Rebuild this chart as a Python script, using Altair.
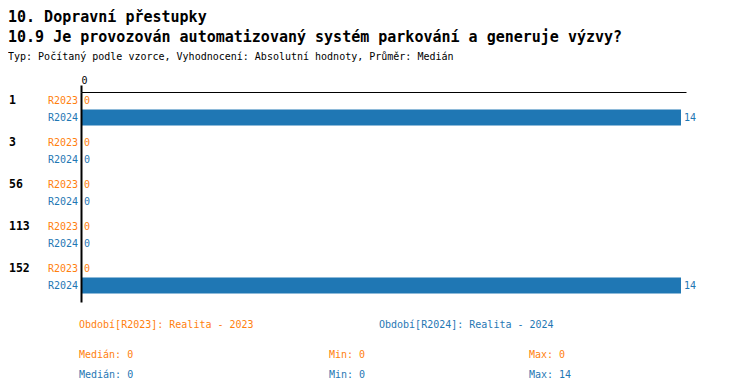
import statistics
import altair as alt
import pandas as pd

# ---- data ----
groups = ["1", "3", "56", "113", "152"]
periods = ["R2023", "R2024"]
values_r2023 = [0, 0, 0, 0, 0]
values_r2024 = [14, 0, 0, 0, 14]
period_names = ["Období[R2023]: Realita - 2023", "Období[R2024]: Realita - 2024"]
title_1 = "10. Dopravní přestupky"
title_2 = "10.9 Je provozován automatizovaný systém parkování a generuje výzvy?"
subtitle = "Typ: Počítaný podle vzorce, Vyhodnocení: Absolutní hodnoty, Průměr: Medián"

ORANGE = "#ff7f0e"
BLUE = "#1f77b4"
FONT = "DejaVu Sans Mono"

rows = []
for g, a, b in zip(groups, values_r2023, values_r2024):
    rows.append({"group": g, "period": "R2023", "value": a})
    rows.append({"group": g, "period": "R2024", "value": b})
df = pd.DataFrame(rows)

color = alt.Color("period:N", scale=alt.Scale(domain=periods, range=[ORANGE, BLUE]), legend=None)

base = alt.Chart(df).encode(
    y=alt.Y("group:N", sort=groups,
            scale=alt.Scale(paddingInner=8 / 42, paddingOuter=4 / 42, align=0),
            axis=alt.Axis(labels=False, ticks=False, title=None, domainWidth=2,
                          domainColor="black", zindex=1)),
    yOffset=alt.YOffset("period:N", sort=periods,
                        scale=alt.Scale(paddingInner=1 / 17, paddingOuter=0.5 / 17)),
)

xenc = alt.X("value:Q",
             scale=alt.Scale(domain=[0, 14.117], nice=False, zero=True),
             axis=alt.Axis(orient="top", values=[0], tickSize=7, tickWidth=2,
                           tickColor="black", domainColor="black", domainWidth=1,
                           labelFont=FONT, labelFontSize=10, labelColor="black",
                           labelPadding=0, grid=False, title=None, zindex=1))

bars = base.mark_bar().encode(x=xenc, color=color)

value_labels = base.mark_text(align="left", baseline="middle", dx=3, font=FONT, fontSize=10).encode(
    x="value:Q", text="value:Q", color=color)

period_labels = base.mark_text(align="right", baseline="middle", font=FONT, fontSize=10).encode(
    x=alt.value(-3), text="period:N", color=color)

group_labels = base.transform_filter(alt.datum.period == "R2023").mark_text(
    align="left", baseline="middle", font=FONT, fontSize=11.5, fontWeight="bold", color="black"
).encode(x=alt.value(-72), text="group:N")


def label(text, x, y, size=10, color="black", weight="normal"):
    return alt.Chart(pd.DataFrame({"t": [text]})).mark_text(
        align="left", baseline="alphabetic", font=FONT, fontSize=size,
        fontWeight=weight, color=color
    ).encode(text="t:N", x=alt.value(x), y=alt.value(y))


texts = [
    label(title_1, -73, -70, 15, "black", "bold"),
    label(title_2, -73, -50, 15, "black", "bold"),
    label(subtitle, -73, -32.5, 10),
    label(period_names[0], -2, 236, 10, ORANGE),
    label(period_names[1], 298, 236, 10, BLUE),
]

cols_x = [-2, 248, 448]
for vals, col, y in [(values_r2023, ORANGE, 266), (values_r2024, BLUE, 286)]:
    med = statistics.median(vals)
    med = int(med) if float(med).is_integer() else med
    texts.append(label(f"Medián: {med}", cols_x[0], y, 10, col))
    texts.append(label(f"Min: {min(vals)}", cols_x[1], y, 10, col))
    texts.append(label(f"Max: {max(vals)}", cols_x[2], y, 10, col))

chart = alt.layer(bars, value_labels, period_labels, group_labels, *texts).properties(
    width=605, height=210,
    autosize=alt.AutoSizeParams(type="none"),
    padding={"left": 73, "top": 84, "right": 56, "bottom": 80},
).configure_view(stroke=None)

chart.save("out.html", embed_options={"renderer": "svg", "actions": False})
